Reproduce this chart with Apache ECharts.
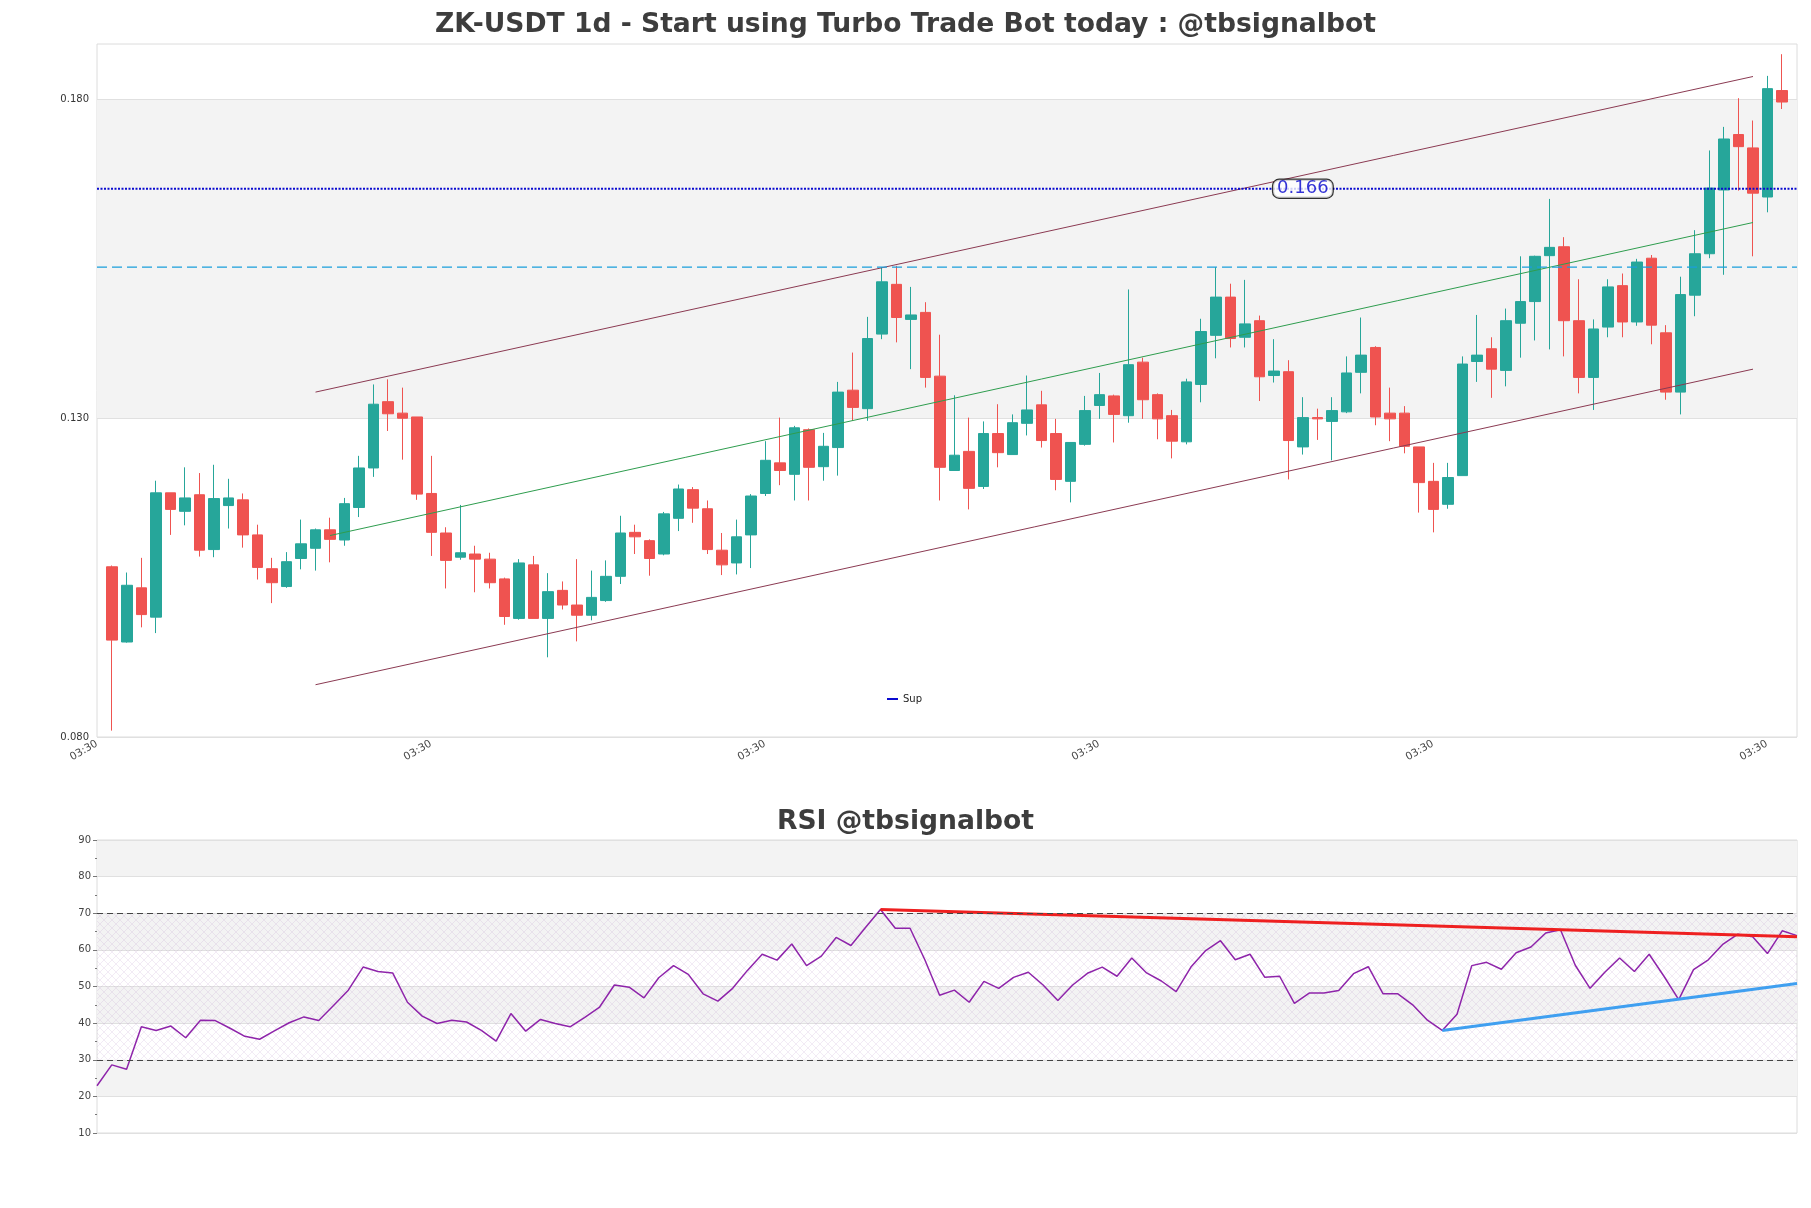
<!DOCTYPE html>
<html><head><meta charset="utf-8">
<script src="https://cdn.jsdelivr.net/npm/echarts@6/dist/echarts.min.js"></script>
<style>html,body{margin:0;padding:0;background:#fff}#c{width:1811px;height:1208px}</style>
</head><body><div id="c"></div>
<script>
// ---------- DATA ----------
const opens = [0.1067,0.0949,0.1034,0.0988,0.1183,0.1154,0.1180,0.1094,0.1163,0.1172,
0.1117,0.1064,0.1036,0.1080,0.1096,0.1125,0.1109,0.1160,0.1222,0.1326,
0.1308,0.1302,0.1182,0.1120,0.1082,0.1087,0.1079,0.1048,0.0986,0.1070,
0.0986,0.1030,0.1007,0.0991,0.1014,0.1052,0.1121,0.1108,0.1087,0.1143,
0.1188,0.1158,0.1093,0.1073,0.1117,0.1182,0.1230,0.1212,0.1282,0.1224,
0.1254,0.1344,0.1315,0.1432,0.1510,0.1455,0.1466,0.1366,0.1218,0.1248,
0.1193,0.1276,0.1243,0.1292,0.1321,0.1276,0.1201,0.1259,0.1320,0.1335,
0.1304,0.1388,0.1337,0.1304,0.1263,0.1353,0.1430,0.1490,0.1427,0.1453,
0.1367,0.1373,0.1255,0.1301,0.1295,0.1310,0.1372,0.1411,0.1308,0.1308,
0.1255,0.1201,0.1165,0.1210,0.1389,0.1409,0.1375,0.1449,0.1483,0.1555,
0.1569,0.1453,0.1364,0.1443,0.1508,0.1451,0.1551,0.1434,0.1341,0.1493,
0.1558,0.1658,0.1745,0.1724,0.1647,0.1814];
const closes = [0.0952,0.1038,0.0992,0.1183,0.1157,0.1175,0.1093,0.1174,0.1175,0.1117,
0.1066,0.1042,0.1075,0.1103,0.1125,0.1110,0.1166,0.1222,0.1322,0.1307,
0.1300,0.1181,0.1121,0.1077,0.1089,0.1079,0.1042,0.0989,0.1073,0.0986,
0.1028,0.1007,0.0991,0.1019,0.1052,0.1120,0.1114,0.1080,0.1150,0.1189,
0.1159,0.1094,0.1070,0.1114,0.1178,0.1234,0.1218,0.1285,0.1223,0.1256,
0.1341,0.1317,0.1425,0.1514,0.1458,0.1462,0.1364,0.1223,0.1242,0.1190,
0.1276,0.1246,0.1293,0.1313,0.1265,0.1204,0.1262,0.1312,0.1337,0.1306,
0.1384,0.1329,0.1299,0.1264,0.1357,0.1436,0.1490,0.1425,0.1448,0.1365,
0.1374,0.1265,0.1301,0.1299,0.1312,0.1371,0.1399,0.1302,0.1299,0.1256,
0.1199,0.1157,0.1207,0.1385,0.1399,0.1377,0.1453,0.1483,0.1554,0.1568,
0.1453,0.1364,0.1440,0.1506,0.1451,0.1545,0.1446,0.1341,0.1494,0.1558,
0.1661,0.1738,0.1726,0.1653,0.1817,0.1796];
const highs = [0.1069,0.1058,0.1081,0.1202,0.1183,0.1223,0.1214,0.1227,0.1205,0.1182,
0.1133,0.1081,0.1090,0.1141,0.1127,0.1144,0.1175,0.1241,0.1353,0.1361,
0.1348,0.1302,0.1241,0.1129,0.1164,0.1100,0.1089,0.1050,0.1079,0.1084,
0.1057,0.1044,0.1079,0.1061,0.1077,0.1147,0.1133,0.1110,0.1153,0.1196,
0.1192,0.1171,0.1120,0.1141,0.1181,0.1264,0.1301,0.1288,0.1284,0.1277,
0.1357,0.1403,0.1459,0.1537,0.1539,0.1506,0.1482,0.1431,0.1336,0.1301,
0.1295,0.1322,0.1306,0.1367,0.1343,0.1299,0.1262,0.1335,0.1371,0.1337,
0.1502,0.1395,0.1339,0.1313,0.1362,0.1456,0.1537,0.1511,0.1517,0.1461,
0.1424,0.1391,0.1333,0.1315,0.1333,0.1397,0.1458,0.1413,0.1348,0.1319,
0.1255,0.1230,0.1230,0.1397,0.1462,0.1427,0.1472,0.1554,0.1555,0.1644,
0.1584,0.1518,0.1455,0.1518,0.1527,0.1550,0.1556,0.1446,0.1522,0.1595,
0.1720,0.1757,0.1802,0.1767,0.1837,0.1871];
const lows = [0.0810,0.0948,0.0972,0.0963,0.1117,0.1132,0.1083,0.1082,0.1127,0.1097,
0.1047,0.1010,0.1034,0.1063,0.1061,0.1074,0.1100,0.1145,0.1208,0.1280,
0.1235,0.1172,0.1084,0.1033,0.1078,0.1027,0.1033,0.0976,0.0984,0.0986,
0.0925,0.1000,0.0950,0.0983,0.1012,0.1040,0.1087,0.1053,0.1085,0.1123,
0.1136,0.1087,0.1054,0.1055,0.1065,0.1178,0.1195,0.1171,0.1171,0.1202,
0.1210,0.1296,0.1296,0.1424,0.1419,0.1377,0.1348,0.1171,0.1218,0.1157,
0.1189,0.1223,0.1243,0.1273,0.1254,0.1187,0.1168,0.1257,0.1299,0.1262,
0.1293,0.1299,0.1267,0.1237,0.1259,0.1325,0.1394,0.1411,0.1411,0.1327,
0.1356,0.1204,0.1243,0.1266,0.1234,0.1308,0.1339,0.1289,0.1264,0.1245,
0.1152,0.1121,0.1158,0.1210,0.1357,0.1332,0.1350,0.1395,0.1422,0.1408,
0.1397,0.1339,0.1313,0.1427,0.1427,0.1445,0.1416,0.1329,0.1306,0.1460,
0.1551,0.1525,0.1657,0.1554,0.1623,0.1785];
const rsi = [22.9,28.6,27.4,39.0,38.0,39.2,36.0,40.8,40.7,38.6,
36.4,35.6,37.9,40.1,41.7,40.7,44.8,49.0,55.3,54.1,
53.7,45.7,41.9,39.9,40.8,40.3,38.0,35.1,42.6,37.8,
41.0,39.9,39.0,41.6,44.4,50.4,49.8,46.9,52.4,55.7,
53.3,48.0,46.0,49.5,54.4,58.8,57.2,61.6,55.7,58.3,
63.4,61.2,66.2,71.0,65.9,65.9,57.3,47.6,49.0,45.7,
51.4,49.5,52.5,53.9,50.4,46.2,50.4,53.6,55.3,52.8,
57.8,53.7,51.5,48.6,55.3,59.8,62.5,57.3,58.8,52.5,
52.8,45.4,48.2,48.2,48.9,53.5,55.4,48.0,48.0,45.0,
40.8,38.0,42.4,55.7,56.6,54.7,59.2,60.8,64.6,65.5,
55.8,49.5,53.9,57.8,54.1,58.8,52.8,46.4,54.6,57.3,
61.6,64.3,63.6,59.0,65.2,63.9];
const xTickPositions = [-1.05, 21.95, 44.95, 67.95, 90.95, 113.95];
const xTickLabels = ['03:30','03:30','03:30','03:30','03:30','03:30'];
const yTickValues = [0.08, 0.13, 0.18];
const rsiTickMin = 10, rsiTickMax = 90, rsiTickStep = 10;
const channelUpper = [[14, 0.1341], [113, 0.1836]];
const channelLower = [[14, 0.0882], [113, 0.1377]];
const channelMid = [[15, 0.1116], [113, 0.1607]];
const supLevel = 0.166;
const supLabelX = 82;
const resLevel = 0.1537;
const rsiResLine = [[53, 71.0], [115, 63.6]];
const rsiSupLine = [[91, 38.0], [115, 50.8]];
const rsiLevels = [30, 70];
const xMin = -1.05, xMax = 116.03, yMin = 0.08, yMax = 0.1887;

// ---------- CHART ----------
function hatch() {
  const cv = document.createElement('canvas'); cv.width = 8; cv.height = 8;
  const g = cv.getContext('2d');
  g.strokeStyle = 'rgba(175,135,195,0.28)'; g.lineWidth = 0.6;
  g.beginPath(); g.moveTo(0,0); g.lineTo(8,8); g.moveTo(8,0); g.lineTo(0,8); g.stroke();
  return cv;
}
const candleData = opens.map((o, i) => [i, o, closes[i], lows[i], highs[i]]);
const FONT = 'DejaVu Sans';
const chart = echarts.init(document.getElementById('c'), null, {renderer: 'canvas', width: 1811, height: 1208});
const option = {
  animation: false,
  backgroundColor: '#ffffff',
  title: [
    {text: 'ZK-USDT 1d - Start using Turbo Trade Bot today : @tbsignalbot', left: 'center', top: 7,
     textStyle: {fontFamily: FONT, fontSize: 26.6, fontWeight: 'bold', color: '#3d3d3d'}},
    {text: 'RSI @tbsignalbot', left: 'center', top: 804,
     textStyle: {fontFamily: FONT, fontSize: 26.6, fontWeight: 'bold', color: '#3d3d3d'}}
  ],
  legend: {data: ['Sup'], left: 882, top: 689, icon: 'rect', itemWidth: 11, itemHeight: 2, itemGap: 6,
    textStyle: {fontSize: 10, fontFamily: FONT, color: '#222'}},
  grid: [
    {left: 97, top: 44, width: 1700, height: 693, show: true, borderColor: '#dcdcdc', borderWidth: 1},
    {left: 97, top: 840, width: 1700, height: 293, show: true, borderColor: '#dcdcdc', borderWidth: 1}
  ],
  xAxis: [
    {type: 'value', gridIndex: 0, min: xMin, max: xMax,
     axisLine: {show: false}, axisTick: {show: false, customValues: xTickPositions}, splitLine: {show: false},
     axisLabel: {customValues: xTickPositions, rotate: 30, margin: 6, fontSize: 10.5, fontFamily: FONT, color: '#444',
       formatter: function (v) {
         let best = 0; xTickPositions.forEach((p, k) => { if (Math.abs(p - v) < Math.abs(xTickPositions[best] - v)) best = k; });
         return xTickLabels[best];
       }}},
    {type: 'value', gridIndex: 1, min: 0, max: rsi.length - 1, show: false, splitLine: {show: false}}
  ],
  yAxis: [
    {type: 'value', gridIndex: 0, min: yMin, max: yMax,
     axisLine: {show: false},
     axisTick: {show: false, customValues: yTickValues},
     axisLabel: {customValues: yTickValues, fontSize: 10, fontFamily: FONT, color: '#333', margin: 8,
       formatter: v => v.toFixed(3)},
     splitLine: {show: true, lineStyle: {color: '#e0e0e0', width: 1}},
     splitArea: {show: true, areaStyle: {color: ['rgba(255,255,255,0)', '#f3f3f3']}}},
    {type: 'value', gridIndex: 1, min: rsiTickMin, max: rsiTickMax, interval: rsiTickStep,
     axisLine: {show: false},
     axisTick: {show: true, length: 4, lineStyle: {color: '#777'}},
     minorTick: {show: true, splitNumber: 2, length: 2, lineStyle: {color: '#777'}},
     axisLabel: {fontSize: 10, fontFamily: FONT, color: '#444', margin: 6},
     splitLine: {show: true, lineStyle: {color: '#e0e0e0', width: 1}},
     splitArea: {show: true, areaStyle: {color: ['rgba(255,255,255,0)', '#f3f3f3']}}}
  ],
  series: [
    {type: 'candlestick', name: 'ZK', xAxisIndex: 0, yAxisIndex: 0, data: candleData,
     encode: {x: 0, y: [1, 2, 3, 4]}, barWidth: 11,
     itemStyle: {color: '#26a69a', color0: '#ef5350', borderColor: '#26a69a', borderColor0: '#ef5350', borderWidth: 1}},
    {type: 'line', name: 'upper', xAxisIndex: 0, yAxisIndex: 0, data: channelUpper, symbol: 'none', silent: true,
     lineStyle: {color: '#8b3a52', width: 1}},
    {type: 'line', name: 'lower', xAxisIndex: 0, yAxisIndex: 0, data: channelLower, symbol: 'none', silent: true,
     lineStyle: {color: '#8b3a52', width: 1}},
    {type: 'line', name: 'mid', xAxisIndex: 0, yAxisIndex: 0, data: channelMid, symbol: 'none', silent: true,
     lineStyle: {color: '#2e9d4e', width: 1}},
    {type: 'line', name: 'res', xAxisIndex: 0, yAxisIndex: 0, data: [[xMin, resLevel], [xMax, resLevel]], symbol: 'none', silent: true,
     lineStyle: {color: '#1a9fdc', width: 1.4, type: [10, 5]}},
    {type: 'line', name: 'Sup', xAxisIndex: 0, yAxisIndex: 0, data: [[xMin, supLevel], [xMax, supLevel]], symbol: 'none', silent: true,
     itemStyle: {color: '#0a0ad0'}, lineStyle: {color: '#0a0ad0', width: 2, type: [2, 1.5]}},
    {type: 'scatter', name: 'supLabel', xAxisIndex: 0, yAxisIndex: 0, data: [[supLabelX, supLevel]], symbolSize: 0, z: 10,
     label: {show: true, position: 'inside', formatter: () => supLevel.toFixed(3), fontFamily: FONT, fontSize: 18, color: '#0000cc',
       backgroundColor: '#ffffff', borderColor: '#000000', borderWidth: 1.2, borderRadius: 6, padding: [0, 4, 0, 4], lineHeight: 18}},
    {type: 'line', name: 'RSI', xAxisIndex: 1, yAxisIndex: 1, data: rsi.map((v, i) => [i, v]), symbol: 'none', silent: true,
     lineStyle: {color: '#8e24aa', width: 1.5}, z: 3,
     markArea: {silent: true, itemStyle: {color: {image: hatch(), repeat: 'repeat'}},
       data: [[{yAxis: rsiLevels[0]}, {yAxis: rsiLevels[1]}]]},
     markLine: {silent: true, symbol: 'none', label: {show: false},
       lineStyle: {color: '#444', type: [6, 4], width: 1.2},
       data: rsiLevels.map(l => ({yAxis: l}))}},
    {type: 'line', name: 'rsiRes', xAxisIndex: 1, yAxisIndex: 1, data: rsiResLine, symbol: 'none', silent: true, z: 4,
     lineStyle: {color: '#ee2020', width: 3}},
    {type: 'line', name: 'rsiSup', xAxisIndex: 1, yAxisIndex: 1, data: rsiSupLine, symbol: 'none', silent: true, z: 4,
     lineStyle: {color: '#3f9ff0', width: 3}}
  ]
};
chart.setOption(option);
</script>
</body></html>
